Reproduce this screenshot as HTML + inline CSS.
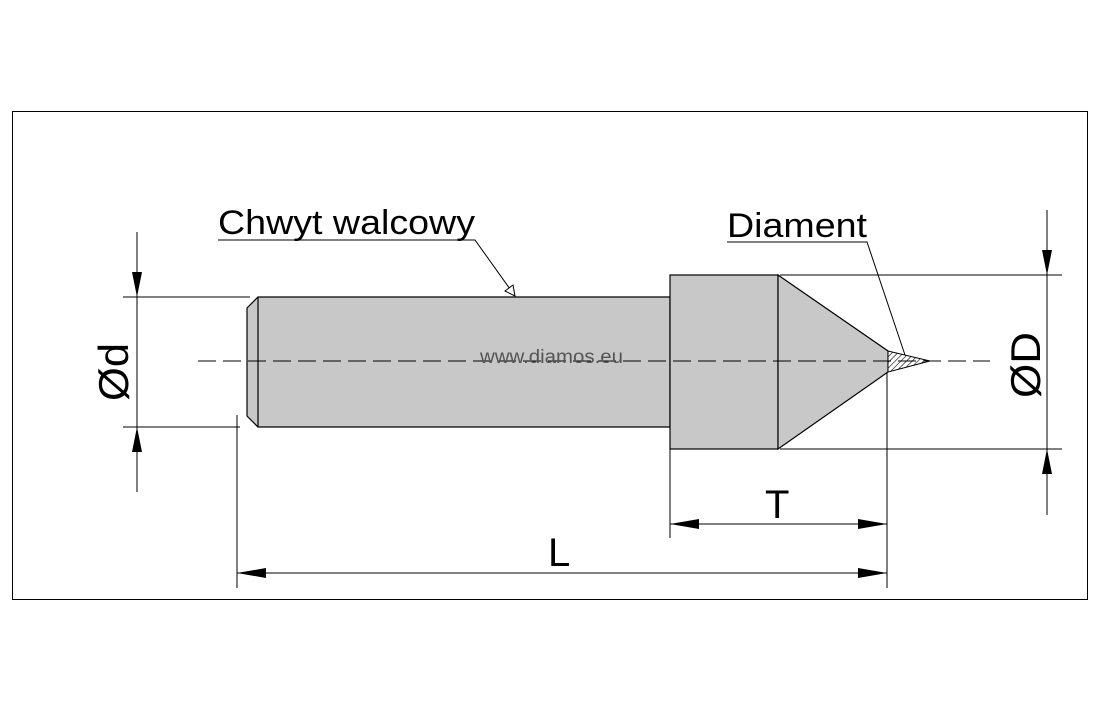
<!DOCTYPE html>
<html><head><meta charset="utf-8"><style>
html,body{margin:0;padding:0;background:#fff;}
svg{display:block;}
text{font-family:"Liberation Sans",Arial,sans-serif;}
</style></head><body>
<svg width="1103" height="714" viewBox="0 0 1103 714" xmlns="http://www.w3.org/2000/svg">
<defs>
<pattern id="h" width="4" height="4" patternUnits="userSpaceOnUse" patternTransform="rotate(45)">
<rect width="4" height="4" fill="#fff"/><line x1="0" y1="0" x2="0" y2="4" stroke="#000" stroke-width="1.2"/>
</pattern>
</defs>
<rect x="12.5" y="111.5" width="1075" height="488" fill="none" stroke="#000" stroke-width="1"/>
<polygon points="258,297 670,297 670,427 258,427 247,416 247,308" fill="#c8c8c8" stroke="#000" stroke-width="1.2"/>
<line x1="258" y1="297" x2="258" y2="427" stroke="#000" stroke-width="1.2"/>
<rect x="670" y="275" width="108" height="174" fill="#c8c8c8" stroke="#000" stroke-width="1.2"/>
<polygon points="778,275 888,351 888,372 778,449" fill="#c8c8c8" stroke="#000" stroke-width="1.2"/>
<polygon points="888,351 930,361 888,372" fill="url(#h)" stroke="#000" stroke-width="1"/>
<line x1="198" y1="361" x2="990" y2="361" stroke="#000" stroke-width="1" stroke-dasharray="18,7"/>
<text x="480" y="363" font-size="19" fill="#555" textLength="143" lengthAdjust="spacingAndGlyphs">www.diamos.eu</text>
<g stroke="#000" stroke-width="1">
<line x1="123" y1="297" x2="250" y2="297"/>
<line x1="123" y1="427" x2="240" y2="427"/>
<line x1="137" y1="232" x2="137" y2="492"/>
<line x1="780" y1="275" x2="1062" y2="275"/>
<line x1="780" y1="449" x2="1062" y2="449"/>
<line x1="1047" y1="210" x2="1047" y2="515"/>
<line x1="237" y1="415" x2="237" y2="588"/>
<line x1="887" y1="372" x2="887" y2="588"/>
<line x1="670" y1="449" x2="670" y2="538"/>
<line x1="237" y1="573" x2="887" y2="573"/>
<line x1="670" y1="524" x2="887" y2="524"/>
<polyline points="218,240 475,240 515,296" fill="none"/>
<polyline points="727,242 867,242 905,355" fill="none"/>
</g>
<polygon points="515,296 505,291 513,285" fill="#fff" stroke="#000" stroke-width="1"/>
<g fill="#000">
<polygon points="137,297 132,272 142,272"/>
<polygon points="137,427 132,452 142,452"/>
<polygon points="1047,275 1042,250 1052,250"/>
<polygon points="1047,449 1042,474 1052,474"/>
<polygon points="237,573 266,568 266,578"/>
<polygon points="887,573 858,568 858,578"/>
<polygon points="670,524 699,519 699,529"/>
<polygon points="887,524 858,519 858,529"/>
</g>
<text x="218" y="234" font-size="34" textLength="257" lengthAdjust="spacingAndGlyphs">Chwyt walcowy</text>
<text x="727" y="237" font-size="34" textLength="140" lengthAdjust="spacingAndGlyphs">Diament</text>
<text x="765" y="518" font-size="40">T</text>
<text x="548" y="566" font-size="40">L</text>
<text transform="translate(128,401) rotate(-90)" font-size="42" textLength="58" lengthAdjust="spacingAndGlyphs">Ød</text>
<text transform="translate(1040,398) rotate(-90)" font-size="42" textLength="66" lengthAdjust="spacingAndGlyphs">ØD</text>
</svg>
</body></html>
